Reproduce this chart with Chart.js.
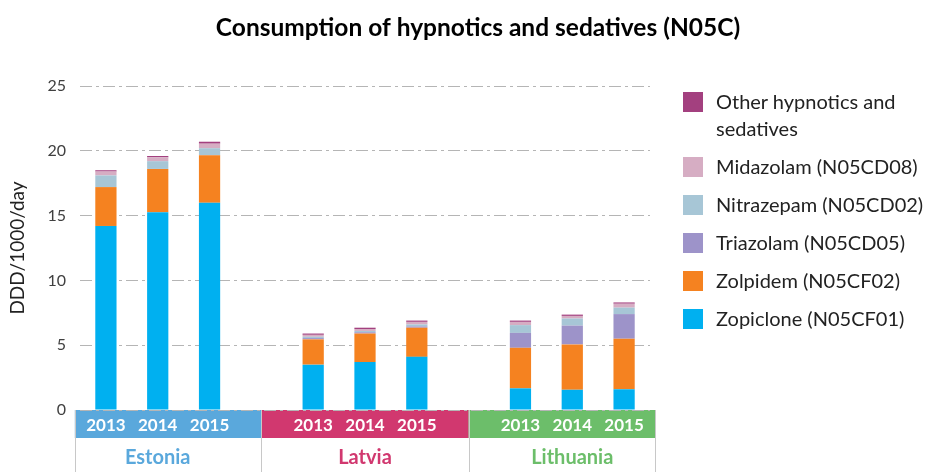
<!DOCTYPE html>
<html>
<head>
<meta charset="utf-8">
<script src="https://cdn.jsdelivr.net/npm/chart.js@4.4.1/dist/chart.umd.min.js"></script>
<style>
  body { margin: 0; background: #fff; }
  #wrap { position: relative; width: 927px; height: 472px; }
  #legend { position: absolute; left: 683px; top: 88px; font-family: Lato, sans-serif; font-size: 20px; color: #222; }
  .item { display: flex; align-items: flex-start; margin-bottom: 11px; line-height: 27px; }
  .sw { width: 20px; height: 20px; margin-top: 4px; margin-right: 13px; flex: none; }
  .txt { width: 215px; }
</style>
</head>
<body>
<div id="wrap">
  <canvas id="chart" width="927" height="472"></canvas>
  <div id="legend"></div>
</div>
<script>
// 11 slots: 3 years per country, empty slot between countries
var years = ['2013', '2014', '2015', '', '2013', '2014', '2015', '', '2013', '2014', '2015'];
var countries = ['Estonia', 'Latvia', 'Lithuania'];
var countryColors = ['#5aa8dc', '#d1386f', '#6cbe6a'];
var yTicks = [0, 5, 10, 15, 20, 25];
var titleText = 'Consumption of hypnotics and sedatives (N05C)';

var zopiclone  = [14.2, 15.25, 16.0, null, 3.5, 3.7, 4.1, null, 1.67, 1.56, 1.6];
var zolpidem   = [3.0, 3.35, 3.65, null, 1.95, 2.2, 2.25, null, 3.13, 3.5, 3.9];
var triazolam  = [0, 0, 0, null, 0.1, 0.1, 0.1, null, 1.15, 1.45, 1.9];
var nitrazepam = [0.9, 0.6, 0.55, null, 0.1, 0.1, 0.15, null, 0.6, 0.55, 0.5];
var midazolam  = [0.3, 0.3, 0.35, null, 0.15, 0.15, 0.2, null, 0.25, 0.2, 0.3];
var other      = [0.1, 0.1, 0.15, null, 0.1, 0.1, 0.1, null, 0.1, 0.1, 0.1];

var series = [
  { label: 'Zopiclone (N05CF01)', data: zopiclone, color: '#00b0f0' },
  { label: 'Zolpidem (N05CF02)', data: zolpidem, color: '#f58220' },
  { label: 'Triazolam (N05CD05)', data: triazolam, color: '#9d93c9' },
  { label: 'Nitrazepam (N05CD02)', data: nitrazepam, color: '#a7c6d6' },
  { label: 'Midazolam (N05CD08)', data: midazolam, color: '#d6adc3' },
  { label: 'Other hypnotics and sedatives', data: other, color: '#a3407f' }
];

// title over whole page, bands with years, country names below
var groupAxis = {
  id: 'groupAxis',
  beforeDraw: function (chart) {
    var ctx = chart.ctx, x = chart.scales.x, a = chart.chartArea;
    var slot = x.getPixelForValue(1) - x.getPixelForValue(0);
    var edges = [x.getPixelForValue(0) - slot * 0.6, x.getPixelForValue(3), x.getPixelForValue(7), x.getPixelForValue(10) + slot * 0.6];
    ctx.save();
    ctx.fillStyle = '#000';
    ctx.font = 'bold 24.5px Lato, sans-serif';
    ctx.textAlign = 'center';
    ctx.textBaseline = 'middle';
    ctx.fillText(titleText, 478, 28);

    for (var i = 0; i < 3; i++) {
      ctx.fillStyle = countryColors[i];
      ctx.fillRect(edges[i], a.bottom, edges[i + 1] - edges[i], 28);
    }
    ctx.strokeStyle = '#c8c8c8';
    ctx.lineWidth = 1;
    edges.forEach(function (e) {
      ctx.beginPath();
      ctx.moveTo(Math.round(e) + 0.5, a.bottom);
      ctx.lineTo(Math.round(e) + 0.5, chart.height);
      ctx.stroke();
    });
    ctx.font = 'bold 20px Lato, sans-serif';
    for (var j = 0; j < 3; j++) {
      ctx.fillStyle = countryColors[j];
      ctx.fillText(countries[j], x.getPixelForValue(j * 4 + 1), a.bottom + 48);
    }
    ctx.restore();
  }
};

new Chart(document.getElementById('chart').getContext('2d'), {
  type: 'bar',
  data: {
    labels: years,
    datasets: series.map(function (s) {
      return { label: s.label, data: s.data, backgroundColor: s.color, borderWidth: 0 };
    })
  },
  options: {
    responsive: false,
    animation: false,
    layout: { padding: { top: 86, right: 277 } },
    datasets: { bar: { categoryPercentage: 1, barPercentage: 0.41 } },
    plugins: {
      legend: { display: false },
      tooltip: { enabled: false },
      title: { display: false }
    },
    scales: {
      x: {
        stacked: true,
        grid: { display: false, drawTicks: false },
        border: { display: false },
        ticks: { color: '#fff', padding: 5, font: { family: 'Lato', size: 17, weight: 'bold' } },
        afterFit: function (s) { s.height = 62; }
      },
      y: {
        stacked: true,
        min: 0,
        max: 25,
        afterBuildTicks: function (s) { s.ticks = yTicks.map(function (v) { return { value: v }; }); },
        afterFit: function (s) { s.width = 80; },
        border: { display: false, dash: [12, 4, 3, 4] },
        grid: { color: '#b5b5b5', drawTicks: false },
        ticks: { color: '#404040', padding: 14, font: { family: 'Lato', size: 16 } },
        title: { display: true, text: 'DDD/1000/day', color: '#222', padding: { top: 6 }, font: { family: 'Lato', size: 19 } }
      }
    }
  },
  plugins: [groupAxis]
});

var leg = document.getElementById('legend');
series.slice().reverse().forEach(function (s) {
  var d = document.createElement('div');
  d.className = 'item';
  d.innerHTML = '<div class="sw" style="background:' + s.color + '"></div><div class="txt">' + s.label + '</div>';
  leg.appendChild(d);
});
</script>
</body>
</html>
